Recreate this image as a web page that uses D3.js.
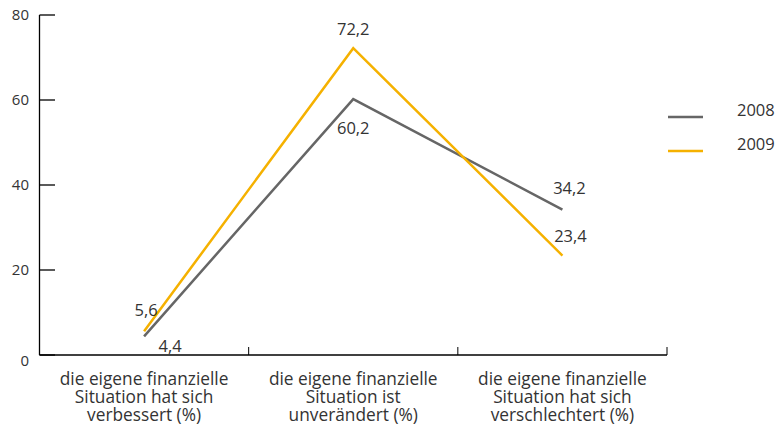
<!DOCTYPE html>
<html><head><meta charset="utf-8">
<script src="https://cdn.jsdelivr.net/npm/d3@7"></script>
<style>body{margin:0;background:#fff}text{font-family:"Open Sans",sans-serif;fill:#333}</style>
</head><body><svg id="c" width="779" height="425"></svg>
<script>
const categories = [
  ["die eigene finanzielle","Situation hat sich","verbessert (%)"],
  ["die eigene finanzielle","Situation ist","unverändert (%)"],
  ["die eigene finanzielle","Situation hat sich","verschlechtert (%)"]
];
const years = ["2008","2009"];
const values2008 = [4.4, 60.2, 34.2];
const values2009 = [5.6, 72.2, 23.4];
const yTicks = [0, 20, 40, 60, 80];

const colors = ["#666666", "#f5b100"];
const labelOffsets = [
  [[26,16],[0,35],[7,-16]],
  [[2,-15],[0,-13],[8,-14]]
];

const svg = d3.select("#c");
const x = d3.scaleBand().domain(d3.range(categories.length)).range([39.5, 667]);
const y = d3.scaleLinear().domain([0, 80]).range([355, 15]);
const cx = i => x(i) + x.bandwidth()/2;
const fmt = v => String(v).replace(".", ",");

// y axis
svg.append("line").attr("x1",39.5).attr("x2",39.5).attr("y1",y(80)).attr("y2",y(0)).attr("stroke","#000").attr("stroke-width",1.3);
yTicks.forEach(t=>{
  svg.append("line").attr("x1",39.5).attr("x2",55).attr("y1",y(t)).attr("y2",y(t)).attr("stroke","#000").attr("stroke-width",1.3);
  svg.append("text").attr("x",29).attr("y",y(t)+(t===0?11:5)).attr("text-anchor","end").attr("font-size",15).text(t);
});
// x axis
svg.append("line").attr("x1",39.5).attr("x2",667).attr("y1",355).attr("y2",355).attr("stroke","#000").attr("stroke-width",1.3);
d3.range(1, categories.length+1).forEach(i=>{
  const xx = x(0) + x.step()*i;
  svg.append("line").attr("x1",xx).attr("x2",xx).attr("y1",347).attr("y2",355).attr("stroke","#000").attr("stroke-width",1);
});
categories.forEach((c,i)=>{
  const t = svg.append("text").attr("text-anchor","middle").attr("font-size",17.3);
  c.forEach((l,j)=>t.append("tspan").attr("x",cx(i)).attr("y",385+j*18).text(l));
});

const series = [values2008, values2009];
const line = d3.line().x((d,i)=>cx(i)).y(d=>y(d));
series.forEach((s,k)=>{
  svg.append("path").attr("d",line(s)).attr("fill","none").attr("stroke",colors[k]).attr("stroke-width",2.5);
});
series.forEach((s,k)=>{
  s.forEach((v,i)=>{
    svg.append("text").attr("x",cx(i)+labelOffsets[k][i][0]).attr("y",y(v)+labelOffsets[k][i][1])
      .attr("text-anchor","middle").attr("font-size",16.5).text(fmt(v));
  });
});

// legend
years.forEach((yr,k)=>{
  const ly = 117 + k*34;
  svg.append("line").attr("x1",668).attr("x2",703).attr("y1",ly).attr("y2",ly).attr("stroke",colors[k]).attr("stroke-width",2.5);
  svg.append("text").attr("x",737).attr("y",ly-1).attr("text-anchor","start").attr("font-size",16.5).text(yr);
});
</script></body></html>
